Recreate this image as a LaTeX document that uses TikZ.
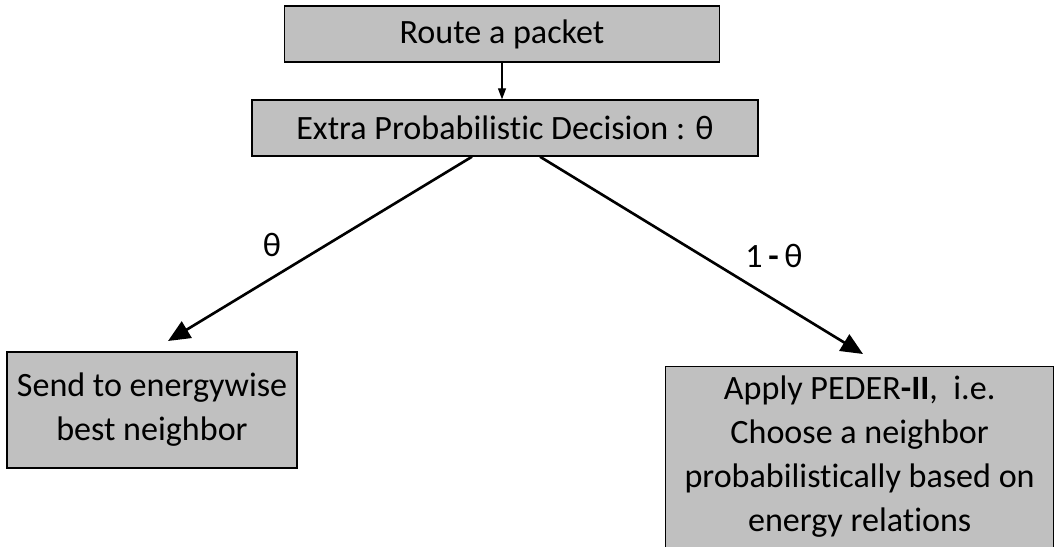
\documentclass[tikz,border=0pt]{standalone}
\usepackage{fontspec}
\setmainfont[Ligatures=NoCommon]{Carlito}
\usetikzlibrary{arrows.meta}
\definecolor{boxgray}{RGB}{192,192,192}

\begin{document}
\begin{tikzpicture}[x=0.02cm,y=-0.02cm,
		box/.style={draw=black,line width=0.8pt,fill=boxgray,inner sep=0pt,align=center,
			font=\fontsize{19.4}{25}\selectfont},
		branch/.style={line width=1.5pt,-{Triangle[length=0.44cm,width=0.38cm]}},
		prob/.style={font=\fontsize{19.4}{25}\selectfont,inner sep=0pt}]
			% page frame, in pixels of the original
			\useasboundingbox (0,0) rectangle (1054,547);
			% the two top steps
			\node[box,minimum width=8.7cm,minimum height=1.12cm] (route) at (502,34) {Route a packet};
			\node[box,minimum width=10.12cm,minimum height=1.12cm] (decision) at (505,128)
			{Extra Probabilistic Decision : θ};
			% the two outcomes
			\node[box,minimum width=5.8cm,minimum height=2.32cm] (best) at (152,410)
			{Send to energywise\\best neighbor};
			\node[box,anchor=north west,inner ysep=0.18cm] (apply) at (665,366)
			{\parbox[c][4cm][t]{7.76cm}{\centering Apply PEDER\textbf{-II},~ i.e.\\Choose a neighbor\\
					probabilistically based on\\energy relations}};
			% connectors
			\coordinate (bestTip) at (168,341);
			\coordinate (applyTip) at (863,354);
			\draw[line width=0.7pt,-{Triangle[length=0.22cm,width=0.16cm]}] (route.south) -- (route.south |- decision.north);
			\draw[branch] ([xshift=-0.66cm]decision.south) -- (bestTip);
			\draw[branch] ([xshift=0.7cm]decision.south) -- (applyTip);
			% branch probabilities
			\node[prob] (pTheta) at (272,245) {θ};
			\node[prob] (pRest) at (774,256) {1\,\textbf{-}\,θ};
		\end{tikzpicture}
\end{document}
